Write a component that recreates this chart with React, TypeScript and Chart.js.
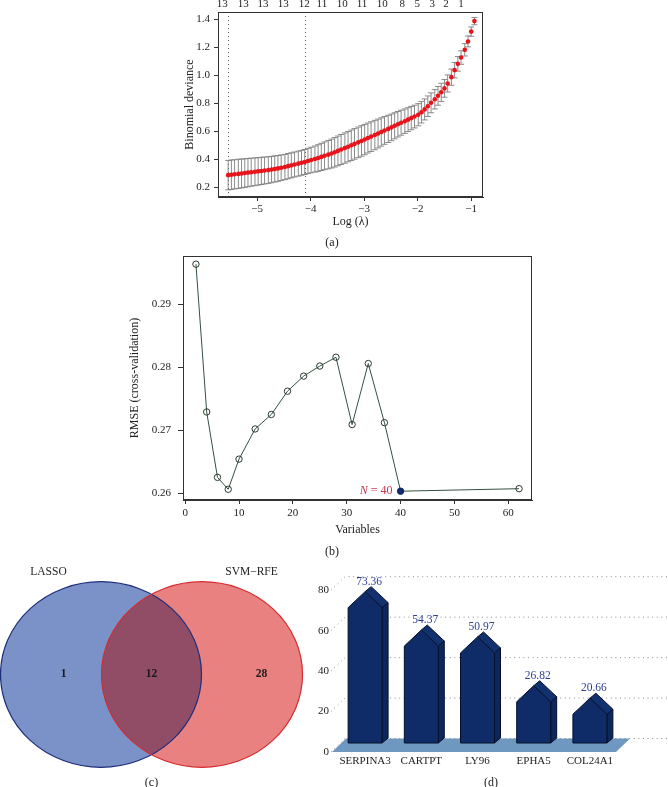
import React, { useEffect, useRef } from "react";
import { Chart, registerables } from "chart.js";
Chart.register(...registerables);

const W = 668;
const H = 787;
const SERIF = '"Liberation Serif", "DejaVu Serif", serif';

// ---------- (a) LASSO cross-validation ----------
const logLambda = [
  -5.54, -5.48, -5.42, -5.35, -5.29, -5.23, -5.17, -5.11, -5.04, -4.98,
  -4.92, -4.86, -4.79, -4.73, -4.67, -4.61, -4.55, -4.48, -4.42, -4.36,
  -4.3, -4.23, -4.17, -4.11, -4.05, -3.99, -3.92, -3.86, -3.8, -3.74,
  -3.67, -3.61, -3.55, -3.49, -3.43, -3.36, -3.3, -3.24, -3.18, -3.11,
  -3.05, -2.99, -2.93, -2.87, -2.8, -2.74, -2.68, -2.62, -2.55, -2.49,
  -2.43, -2.37, -2.31, -2.24, -2.18, -2.12, -2.06, -1.99, -1.93, -1.87,
  -1.81, -1.75, -1.68, -1.62, -1.56, -1.5, -1.44, -1.37, -1.31, -1.25,
  -1.19, -1.12, -1.06, -1.0, -0.94,
];
const deviance = [
  0.286, 0.289, 0.292, 0.295, 0.298, 0.301, 0.304, 0.307, 0.31, 0.313,
  0.316, 0.319, 0.322, 0.326, 0.33, 0.334, 0.339, 0.344, 0.35, 0.356,
  0.362, 0.368, 0.374, 0.38, 0.387, 0.394, 0.401, 0.408, 0.416, 0.424,
  0.432, 0.44, 0.449, 0.459, 0.469, 0.479, 0.489, 0.499, 0.509, 0.52,
  0.53, 0.54, 0.551, 0.561, 0.572, 0.583, 0.594, 0.605, 0.616, 0.627,
  0.638, 0.649, 0.66, 0.671, 0.682, 0.693, 0.704, 0.717, 0.735, 0.755,
  0.778, 0.802, 0.827, 0.852, 0.877, 0.905, 0.94, 0.985, 1.035, 1.08,
  1.125, 1.18, 1.24, 1.31, 1.385,
];
const devianceSE = [
  0.105, 0.105, 0.104, 0.104, 0.103, 0.102, 0.101, 0.1, 0.099, 0.098,
  0.097, 0.096, 0.095, 0.094, 0.093, 0.092, 0.091, 0.09, 0.09, 0.089,
  0.089, 0.089, 0.089, 0.089, 0.09, 0.091, 0.093, 0.095, 0.097, 0.099,
  0.101, 0.103, 0.105, 0.106, 0.107, 0.108, 0.108, 0.109, 0.109, 0.109,
  0.109, 0.108, 0.107, 0.106, 0.105, 0.103, 0.101, 0.099, 0.097, 0.095,
  0.093, 0.091, 0.089, 0.087, 0.085, 0.083, 0.081, 0.079, 0.077, 0.075,
  0.073, 0.071, 0.069, 0.067, 0.065, 0.063, 0.061, 0.058, 0.055, 0.052,
  0.048, 0.044, 0.039, 0.033, 0.026,
];
const lambdaRefLines = [-5.54, -4.1];
const topTickPos = [-5.65, -5.26, -4.89, -4.51, -4.12, -3.79, -3.41, -3.04, -2.66, -2.29, -2.01, -1.73, -1.47, -1.19];
const topTickLabels = ["13", "13", "13", "13", "12", "11", "10", "11", "10", "8", "5", "3", "2", "1"];
const aXTicks = [-5, -4, -3, -2, -1];
const aYTicks = [0.2, 0.4, 0.6, 0.8, 1.0, 1.2, 1.4];

// ---------- (b) SVM-RFE ----------
const nVars = [2, 4, 6, 8, 10, 13, 16, 19, 22, 25, 28, 31, 34, 37, 40, 62];
const rmse = [0.2964, 0.2729, 0.2625, 0.2606, 0.2654, 0.2702, 0.2725, 0.2762, 0.2786, 0.2802, 0.2816, 0.2709, 0.2806, 0.2712, 0.2603, 0.2607];
const bestN = 40;
const bXTicks = [0, 10, 20, 30, 40, 50, 60];
const bYTicks = [0.26, 0.27, 0.28, 0.29];

// ---------- (c) Venn ----------
const vennSets = ["LASSO", "SVM\u2212RFE"];
const vennCounts = [1, 12, 28]; // LASSO only, both, SVM-RFE only

// ---------- (d) importance ----------
const genes = ["SERPINA3", "CARTPT", "LY96", "EPHA5", "COL24A1"];
const importance = [73.36, 54.37, 50.97, 26.82, 20.66];
const dYTicks = [0, 20, 40, 60, 80];

const minus = (v: number, d = 0) => {
  const s = Math.abs(v).toFixed(d);
  return v < 0 ? "\u2212" + s : s;
};

function txt(ctx: CanvasRenderingContext2D, s: string, x: number, y: number, font: string, color: string, align: CanvasTextAlign = "center", rot = 0) {
  ctx.save();
  ctx.font = font;
  ctx.fillStyle = color;
  ctx.textAlign = align;
  ctx.textBaseline = "middle";
  ctx.translate(x, y);
  if (rot) ctx.rotate(rot);
  ctx.fillText(s, 0, 0);
  ctx.restore();
}

function boxPlugin(id: string) {
  return {
    id,
    afterDraw(chart: any) {
      const { ctx, chartArea: ca } = chart;
      ctx.save();
      ctx.strokeStyle = "#333";
      ctx.lineWidth = 1;
      ctx.strokeRect(Math.round(ca.left) + 0.5, Math.round(ca.top) + 0.5, Math.round(ca.right - ca.left) - 1, Math.round(ca.bottom - ca.top) - 1);
      ctx.restore();
    },
  };
}

const tickFont = { family: SERIF, size: 11 };
const AX = "#333";

function rAxis(extra: any) {
  return {
    type: "linear",
    bounds: "data",
    grid: { display: true, drawOnChartArea: false, drawTicks: true, tickLength: 4, color: AX },
    border: { display: true, color: AX },
    ...extra,
    ticks: { font: tickFont, color: "#222", maxRotation: 0, autoSkip: false, ...(extra.ticks || {}) },
  };
}

function buildA() {
  const decor = {
    id: "aDecor",
    beforeDatasetsDraw(chart: any) {
      const { ctx, chartArea: ca, scales } = chart;
      const x = scales.x, y = scales.y;
      ctx.save();
      ctx.beginPath();
      ctx.rect(ca.left, ca.top, ca.right - ca.left, ca.bottom - ca.top);
      ctx.clip();
      ctx.strokeStyle = "#555";
      ctx.lineWidth = 1;
      ctx.setLineDash([1, 3]);
      lambdaRefLines.forEach((v) => {
        const px = Math.round(x.getPixelForValue(v)) + 0.5;
        ctx.beginPath();
        ctx.moveTo(px, ca.top);
        ctx.lineTo(px, ca.bottom);
        ctx.stroke();
      });
      ctx.setLineDash([]);
      ctx.strokeStyle = "#7d7d7d";
      ctx.lineWidth = 0.9;
      logLambda.forEach((v, i) => {
        const px = x.getPixelForValue(v);
        const lo = y.getPixelForValue(deviance[i] - devianceSE[i]);
        const hi = y.getPixelForValue(deviance[i] + devianceSE[i]);
        ctx.beginPath();
        ctx.moveTo(px, lo);
        ctx.lineTo(px, hi);
        ctx.moveTo(px - 3, lo);
        ctx.lineTo(px + 3, lo);
        ctx.moveTo(px - 3, hi);
        ctx.lineTo(px + 3, hi);
        ctx.stroke();
      });
      ctx.restore();
    },
    afterDraw(chart: any) {
      const { ctx, chartArea: ca, scales } = chart;
      topTickPos.forEach((v, i) => {
        txt(ctx, topTickLabels[i], scales.x.getPixelForValue(v), 4, `11px ${SERIF}`, "#222");
      });
      txt(ctx, "Binomial deviance", 190, (ca.top + ca.bottom) / 2, `12px ${SERIF}`, "#222", "center", -Math.PI / 2);
      txt(ctx, "Log (\u03BB)", (ca.left + ca.right) / 2, 222, `12px ${SERIF}`, "#222");
      txt(ctx, "(a)", 332, 243, `12px ${SERIF}`, "#222");
    },
  };
  return {
    type: "scatter",
    data: {
      datasets: [
        {
          data: logLambda.map((v, i) => ({ x: v, y: deviance[i] })),
          pointRadius: 2.3,
          pointBackgroundColor: "#e8141c",
          pointBorderWidth: 0,
          showLine: false,
        },
      ],
    },
    options: {
      responsive: false,
      animation: false,
      events: [],
      layout: { padding: { left: 150, right: W - 483, top: 12, bottom: H - 197 - 30 } },
      plugins: { legend: { display: false }, tooltip: { enabled: false } },
      scales: {
        x: rAxis({
          position: "bottom",
          min: -5.73,
          max: -0.78,
          afterBuildTicks: (s: any) => { s.ticks = aXTicks.map((v) => ({ value: v })); },
          afterFit: (s: any) => { s.height = 30; },
          ticks: { padding: 2, callback: (v: number) => minus(v) },
        }),
        y: rAxis({
          position: "left",
          min: 0.13,
          max: 1.45,
          afterBuildTicks: (s: any) => { s.ticks = aYTicks.map((v) => ({ value: v })); },
          afterFit: (s: any) => { s.width = 68; },
          ticks: { padding: 4, callback: (v: number) => v.toFixed(1) },
        }),
      },
    },
    plugins: [decor, boxPlugin("aBox")],
  };
}

function buildB() {
  const bestIdx = nVars.indexOf(bestN);
  const decor = {
    id: "bDecor",
    afterDraw(chart: any) {
      const { ctx, chartArea: ca, scales } = chart;
      txt(ctx, "RMSE (cross-validation)", 135, (ca.top + ca.bottom) / 2, `12px ${SERIF}`, "#222", "center", -Math.PI / 2);
      txt(ctx, "Variables", (ca.left + ca.right) / 2, 530, `12px ${SERIF}`, "#222");
      txt(ctx, "(b)", 332, 552, `12px ${SERIF}`, "#222");
      const px = scales.x.getPixelForValue(nVars[bestIdx]);
      const py = scales.y.getPixelForValue(rmse[bestIdx]);
      ctx.save();
      ctx.font = `12px ${SERIF}`;
      const rest = " = " + bestN;
      const w2 = ctx.measureText(rest).width;
      ctx.font = `italic 12px ${SERIF}`;
      const w1 = ctx.measureText("N").width;
      const right = px - 8;
      ctx.fillStyle = "#c8354f";
      ctx.textBaseline = "middle";
      ctx.textAlign = "left";
      ctx.fillText("N", right - w2 - w1, py);
      ctx.font = `12px ${SERIF}`;
      ctx.fillText(rest, right - w2, py);
      ctx.restore();
    },
  };
  return {
    type: "scatter",
    data: {
      datasets: [
        {
          data: nVars.map((v, i) => ({ x: v, y: rmse[i] })),
          showLine: true,
          borderColor: "#35503f",
          borderWidth: 1,
          pointRadius: 3.2,
          pointBorderWidth: 1,
          pointBorderColor: nVars.map((v) => (v === bestN ? "#12296b" : "#2a3a2e")),
          pointBackgroundColor: nVars.map((v) => (v === bestN ? "#12296b" : "rgba(0,0,0,0)")),
        },
      ],
    },
    options: {
      responsive: false,
      animation: false,
      events: [],
      layout: { padding: { left: 120, right: W - 532, top: 256, bottom: H - 500 - 30 } },
      plugins: { legend: { display: false }, tooltip: { enabled: false } },
      scales: {
        x: rAxis({
          position: "bottom",
          min: -0.4,
          max: 64.4,
          afterBuildTicks: (s: any) => { s.ticks = bXTicks.map((v) => ({ value: v })); },
          afterFit: (s: any) => { s.height = 30; },
          ticks: { padding: 3, callback: (v: number) => String(v) },
        }),
        y: rAxis({
          position: "left",
          min: 0.2589,
          max: 0.2977,
          afterBuildTicks: (s: any) => { s.ticks = bYTicks.map((v) => ({ value: v })); },
          afterFit: (s: any) => { s.width = 63; },
          grid: { display: true, drawOnChartArea: false, drawTicks: true, tickLength: 5, color: AX },
          ticks: { padding: 7, callback: (v: number) => v.toFixed(2) },
        }),
      },
    },
    plugins: [boxPlugin("bBox"), decor],
  };
}

function buildC() {
  const centers = [1, 2];
  const venn = {
    id: "venn",
    beforeDatasetsDraw(chart: any) {
      const { ctx, scales } = chart;
      const x = scales.x, y = scales.y;
      const rx = x.getPixelForValue(1) - x.getPixelForValue(0);
      const ry = y.getPixelForValue(0) - y.getPixelForValue(1);
      const cy = y.getPixelForValue(1);
      const c0 = x.getPixelForValue(centers[0]);
      const c1 = x.getPixelForValue(centers[1]);
      const ell = (cx: number) => {
        ctx.beginPath();
        ctx.ellipse(cx, cy, rx - 0.5, ry, 0, 0, Math.PI * 2);
      };
      ctx.save();
      ell(c0);
      ctx.fillStyle = "#7a92c7";
      ctx.fill();
      ell(c1);
      ctx.fillStyle = "#ea8181";
      ctx.fill();
      ctx.save();
      ell(c0);
      ctx.clip();
      ell(c1);
      ctx.fillStyle = "#924d66";
      ctx.fill();
      ctx.restore();
      ctx.lineWidth = 1.2;
      ell(c0);
      ctx.strokeStyle = "#1d2c7c";
      ctx.stroke();
      ell(c1);
      ctx.strokeStyle = "#d42a2e";
      ctx.stroke();
      ctx.restore();

      const setY = y.getPixelForValue(2.105);
      txt(ctx, vennSets[0], x.getPixelForValue(0.48), setY, `11.5px ${SERIF}`, "#222");
      txt(ctx, vennSets[1], x.getPixelForValue(2.49), setY, `11.5px ${SERIF}`, "#222");
      const f = `bold 11.5px ${SERIF}`;
      txt(ctx, String(vennCounts[0]), x.getPixelForValue(0.63), cy, f, "#1a1a1a");
      txt(ctx, String(vennCounts[1]), x.getPixelForValue(1.5), cy, f, "#1a1a1a");
      txt(ctx, String(vennCounts[2]), x.getPixelForValue(2.59), cy, f, "#1a1a1a");
      txt(ctx, "(c)", x.getPixelForValue(1.5), 783, `12px ${SERIF}`, "#222");
    },
  };
  return {
    type: "scatter",
    data: { datasets: [{ data: centers.map((c) => ({ x: c, y: 1 })), pointRadius: 0 }] },
    options: {
      responsive: false,
      animation: false,
      events: [],
      layout: { padding: { left: 0, right: W - 303, top: 581.7, bottom: H - 767.3 } },
      plugins: { legend: { display: false }, tooltip: { enabled: false } },
      scales: {
        x: { type: "linear", min: 0, max: 3, display: false },
        y: { type: "linear", min: 0, max: 2, display: false },
      },
    },
    plugins: [venn],
  };
}

function buildD() {
  const DEPTH_X = 14;
  const DEPTH_Y = -13.5;
  const decor = {
    id: "dDecor",
    beforeDatasetsDraw(chart: any) {
      const { ctx, chartArea: ca, scales } = chart;
      const y = scales.y;
      ctx.save();
      ctx.strokeStyle = "#8c8c8c";
      ctx.lineWidth = 1;
      ctx.setLineDash([1, 3.6]);
      dYTicks.forEach((v) => {
        const yy = y.getPixelForValue(v);
        ctx.beginPath();
        ctx.moveTo(ca.left - 6, yy);
        ctx.lineTo(ca.left - 6 + DEPTH_X, yy + DEPTH_Y);
        ctx.lineTo(W, yy + DEPTH_Y);
        ctx.stroke();
      });
      ctx.setLineDash([]);
      // floor
      const b = y.getPixelForValue(0);
      ctx.beginPath();
      ctx.moveTo(ca.left - 5, b);
      ctx.lineTo(ca.left - 5 + DEPTH_X, b + DEPTH_Y);
      ctx.lineTo(ca.right + 12, b + DEPTH_Y);
      ctx.lineTo(ca.right + 12 - DEPTH_X, b);
      ctx.closePath();
      ctx.fillStyle = "#6f98c1";
      ctx.fill();
      ctx.restore();
    },
    afterDatasetsDraw(chart: any) {
      const { ctx } = chart;
      const meta = chart.getDatasetMeta(0);
      ctx.save();
      ctx.lineWidth = 1;
      ctx.strokeStyle = "#050f2a";
      ctx.lineJoin = "round";
      const dx = 6, dy = -5;
      meta.data.forEach((el: any, i: number) => {
        const w = el.width;
        const L = el.x - w / 2;
        const R = el.x + w / 2;
        const s = el.y + 4;
        const pk = s - 16;
        const bot = el.base - 9;
        const poly = (pts: number[][], fill: string) => {
          ctx.beginPath();
          ctx.moveTo(pts[0][0], pts[0][1]);
          for (let k = 1; k < pts.length; k++) ctx.lineTo(pts[k][0], pts[k][1]);
          ctx.closePath();
          ctx.fillStyle = fill;
          ctx.fill();
          ctx.stroke();
        };
        poly([[R, bot], [R, s], [R + dx, s + dy], [R + dx, bot + dy]], "#0c275c");
        poly([[el.x, pk], [R, s], [R + dx, s + dy], [el.x + dx, pk + dy]], "#12316f");
        poly([[L, bot], [L, s], [el.x, pk], [R, s], [R, bot]], "#0f2c68");
        txt(ctx, importance[i].toFixed(2), el.x + 4, pk - 10, `11.5px ${SERIF}`, "#2d3d92");
      });
      ctx.restore();
      txt(ctx, "(d)", 491, 783, `12px ${SERIF}`, "#222");
    },
  };
  return {
    type: "bar",
    data: {
      labels: genes,
      datasets: [
        {
          data: importance,
          backgroundColor: "rgba(0,0,0,0)",
          borderWidth: 0,
          barPercentage: 1,
          categoryPercentage: 34 / 56.25,
        },
      ],
    },
    options: {
      responsive: false,
      animation: false,
      events: [],
      layout: { padding: { left: 0, right: W - 618, top: 570, bottom: 0 } },
      plugins: { legend: { display: false }, tooltip: { enabled: false } },
      scales: {
        x: {
          offset: true,
          grid: { display: false, drawTicks: false },
          border: { display: false },
          afterFit: (s: any) => { s.height = H - 752; },
          ticks: { font: tickFont, color: "#222", padding: 3, autoSkip: false, maxRotation: 0 },
        },
        y: {
          type: "linear",
          bounds: "data",
          min: 0,
          max: 90,
          afterBuildTicks: (s: any) => { s.ticks = dYTicks.map((v) => ({ value: v })); },
          afterFit: (s: any) => { s.width = 337; },
          grid: { display: false, drawTicks: false },
          border: { display: false },
          ticks: { font: tickFont, color: "#222", padding: 8, callback: (v: number) => String(v) },
        },
      },
    },
    plugins: [decor],
  };
}

function ChartLayer({ build }: { build: () => any }) {
  const ref = useRef<HTMLCanvasElement>(null);
  useEffect(() => {
    const chart = new Chart(ref.current as HTMLCanvasElement, build());
    return () => chart.destroy();
  }, []);
  return (
    <canvas
      ref={ref}
      width={W}
      height={H}
      style={{ position: "absolute", left: 0, top: 0, width: W, height: H }}
    />
  );
}

export default function App() {
  return (
    <div style={{ position: "fixed", left: 0, top: 0, width: W, height: H, background: "#fff", overflow: "hidden" }}>
      <ChartLayer build={buildC} />
      <ChartLayer build={buildD} />
      <ChartLayer build={buildA} />
      <ChartLayer build={buildB} />
    </div>
  );
}
